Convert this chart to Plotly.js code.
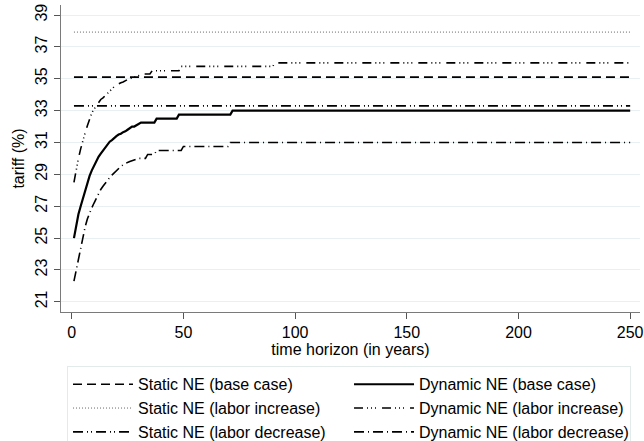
<!DOCTYPE html>
<html>
<head>
<meta charset="utf-8">
<script src="https://cdn.plot.ly/plotly-3.0.1.min.js"></script>
<style>html,body{margin:0;padding:0;background:#fff}#chart{width:644px;height:441px}</style>
</head>
<body>
<div id="chart"></div>
<script>
// ---- data ----
var horizon = [1, 250];
var staticBase = [35.1, 35.1];
var staticInc = [37.93, 37.93];
var staticDec = [33.3, 33.3];

var yearsDynBase = [1,2,3,4,5,6,7,8,9,10,11,12,13,14,15,16,17,18,19,20,21,22,23,24,25,26,27,28,29,30,31,37,38,47,48,71,72,250];
var dynBase = [25.0,25.9,26.5,27.0,27.5,28.0,28.5,28.9,29.25,29.55,29.85,30.1,30.3,30.5,30.7,30.9,31.05,31.15,31.3,31.4,31.5,31.55,31.65,31.7,31.8,31.9,32.0,32.0,32.1,32.2,32.25,32.25,32.5,32.5,32.75,32.75,33.0,33.0];

var yearsDynInc = [1,2,3,4,5,6,7,8,9,10,11,12,13,14,15,16,17,18,19,20,21,22,23,24,25,26,27,28,29,30,31,35,36,48,49,90,91,250];
var dynInc = [28.5,29.3,30.0,30.6,31.15,31.6,32.05,32.5,32.85,33.1,33.3,33.5,33.7,33.8,33.95,34.1,34.25,34.4,34.5,34.6,34.7,34.75,34.8,34.9,34.95,35.0,35.05,35.1,35.15,35.2,35.3,35.3,35.5,35.5,35.78,35.78,36.0,36.0];

var yearsDynDec = [1,2,3,4,5,6,7,8,9,10,11,12,13,14,15,16,17,18,19,20,21,22,23,24,25,26,27,28,29,30,33,34,37,38,49,50,70,71,250];
var dynDec = [22.3,23.0,23.7,24.4,25.0,25.7,26.2,26.6,26.9,27.2,27.5,27.8,28.05,28.25,28.45,28.65,28.8,28.95,29.1,29.25,29.4,29.5,29.6,29.7,29.75,29.8,29.85,29.9,29.95,30.0,30.0,30.25,30.25,30.5,30.5,30.75,30.75,31.0,31.0];

var yTicks = [21,23,25,27,29,31,33,35,37,39];
var xTicks = [0,50,100,150,200,250];

var names = ["Static NE (base case)", "Dynamic NE (base case)",
             "Static NE (labor increase)", "Dynamic NE (labor increase)",
             "Static NE (labor decrease)", "Dynamic NE (labor decrease)"];

var FONT = "Liberation Sans, Arial, sans-serif";

var traces = [
  {x: horizon, y: staticBase, name: names[0], mode: "lines",
   line: {color: "#000", width: 1.6, dash: "9px,5px"}},
  {x: yearsDynBase, y: dynBase, name: names[1], mode: "lines",
   line: {color: "#000", width: 2.2, dash: "solid"}},
  {x: horizon, y: staticInc, name: names[2], mode: "lines",
   line: {color: "#666", width: 1, dash: "1px,2px"}},
  {x: yearsDynInc, y: dynInc, name: names[3], mode: "lines",
   line: {color: "#000", width: 1.6, dash: "9px,4px,1px,3px,1px,3px,1px,6px"}},
  {x: horizon, y: staticDec, name: names[4], mode: "lines",
   line: {color: "#000", width: 1.6, dash: "10px,4px,1px,3px,1px,4px"}},
  {x: yearsDynDec, y: dynDec, name: names[5], mode: "lines",
   line: {color: "#000", width: 1.6, dash: "10px,4px,1px,4px"}}
];

var layout = {
  width: 644, height: 441,
  margin: {l: 61, r: 4, t: 5, b: 129, autoexpand: false},
  paper_bgcolor: "#fff", plot_bgcolor: "#fff",
  font: {family: FONT, size: 16, color: "#000"},
  showlegend: true,
  xaxis: {
    range: [-4.8, 254.4], tickvals: xTicks, ticktext: xTicks.map(String),
    showgrid: false, zeroline: false,
    showline: true, linecolor: "#7a7a7a", linewidth: 1.2,
    ticks: "outside", ticklen: 6, tickcolor: "#555", tickwidth: 1,
    tickfont: {family: FONT, size: 16},
    title: {text: "time horizon (in years)", font: {family: FONT, size: 16}, standoff: 2}
  },
  yaxis: {
    range: [20.36, 39.63], tickvals: yTicks, ticktext: yTicks.map(String),
    tickangle: -90,
    showgrid: true, gridcolor: "#e8f0f1", gridwidth: 1, zeroline: false,
    showline: true, linecolor: "#7a7a7a", linewidth: 1.2,
    ticks: "outside", ticklen: 6, tickcolor: "#555", tickwidth: 1,
    tickfont: {family: FONT, size: 16},
    title: {text: "tariff (%)", font: {family: FONT, size: 16}, standoff: 4}
  },
  legend: {
    orientation: "h", x: 0.0104, xanchor: "left", y: -0.177, yanchor: "top",
    entrywidth: 206, entrywidthmode: "pixels", itemwidth: 60,
    bgcolor: "#fff", bordercolor: "#e3eaea", borderwidth: 1,
    font: {family: FONT, size: 16, color: "#000"},
    traceorder: "normal"
  }
};

Plotly.newPlot("chart", traces, layout, {displayModeBar: false, staticPlot: true});
</script>
</body>
</html>
